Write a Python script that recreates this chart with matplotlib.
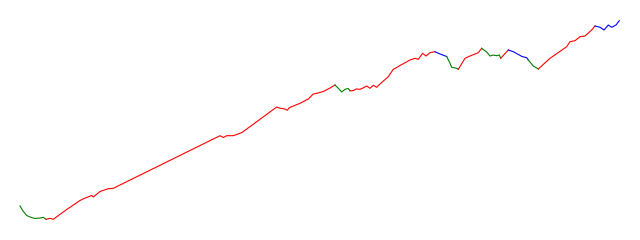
import numpy as np
import matplotlib.pyplot as plt

# Points traced along the series (x = step, level = value), no duplicates
x_vals = [20, 23, 26.7, 30, 35, 40, 43.3, 46,
          50, 53.3, 66, 80, 84, 91.7, 93.3, 100, 108.3, 113.3, 220, 223.3, 226.7,
          233.3, 242, 276.7, 280, 285, 287.3, 289.3, 300, 308.3, 313.3, 318, 323.3,
          330, 335,
          338.3, 341.7, 345, 348.3, 350,
          353.3, 356, 360, 363, 366.7, 370, 373.3, 376.7, 380, 388.3, 393.3, 396.7,
          400, 410, 415, 418.3, 422.7, 426, 430, 435,
          440, 446.7,
          450, 451.7, 456.7, 458.3,
          465, 470, 478.3, 481.7,
          486.7, 490, 493.3, 496.7, 499.3, 500.7,
          508.3,
          513.3, 519.3, 522, 526.7, 528.3,
          533.3, 538.3,
          550, 566.7, 570, 575, 580, 585, 591.7, 595,
          600, 604, 608.3, 611.7, 616, 619.3]
level = [34, 29, 24.5, 23, 21.5, 22, 22.7, 20.7,
         21.7, 20.7, 30, 39.5, 41.5, 44.5, 43, 48.5, 51.3, 51.7, 104.3, 102.5, 104.3,
         104.3, 107.5, 133, 131.7, 131, 129.7, 132.3, 136.7, 141, 146, 147, 148.5,
         152, 155,
         151.7, 148, 150.7, 151.5, 149.3,
         149.3, 151, 150.7, 152, 154, 151.7, 154.7, 152.7, 156, 163.3, 170.7, 172.5,
         174.5, 180, 181.7, 180.7, 186.7, 184, 187.3, 188.3,
         186, 183.5,
         176.7, 172.7, 171.7, 170.7,
         181.7, 184, 187.3, 191.7,
         188, 184, 185, 184.3, 185, 181.7,
         190,
         188.3, 185, 183.5, 182.3, 180,
         174, 171,
         181.7, 193.3, 198.3, 199.3, 203.3, 204, 210, 214,
         212.7, 210, 215, 212.7, 215, 219.3]

# Regime of each interval between consecutive points
runs = [('down', 7), ('up', 27), ('down', 5), ('up', 20), ('flat', 2), ('down', 4),
        ('up', 4), ('down', 6), ('up', 1), ('flat', 5), ('down', 2), ('up', 8),
        ('flat', 6)]

colors = {'up': '#ff0000', 'down': '#008000', 'flat': '#0000ff'}

fig = plt.figure(figsize=(6.4, 2.4), dpi=100)
ax = fig.add_axes([0, 0, 1, 1])

start = 0
for regime, n in runs:
    ax.plot(x_vals[start:start + n + 1], level[start:start + n + 1],
            color=colors[regime], linewidth=0.8)
    start += n

ax.set_xlim(0, 640)
ax.set_ylim(0, 240)
ax.axis('off')

fig.savefig('out.png', dpi=100)
